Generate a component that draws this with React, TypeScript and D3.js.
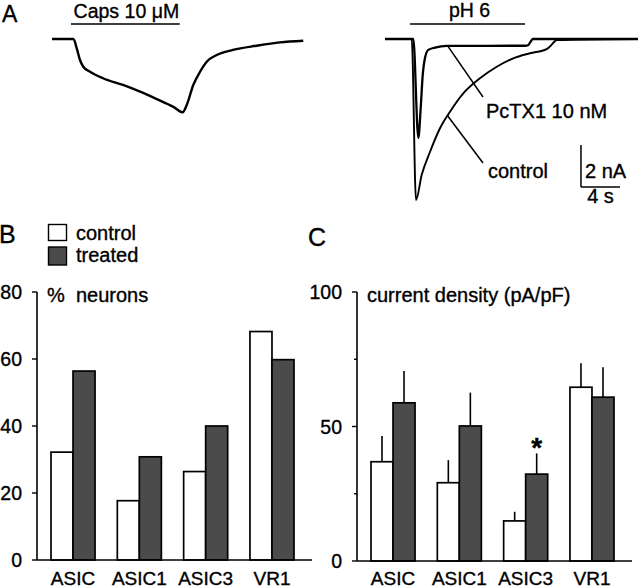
import React from "react";
import * as d3 from "d3";

// ---------- Panel A data (time in s, current in nA) ----------
const capsT = [0, 2.2, 2.53, 2.87, 3.21, 3.9, 5.23, 7.28, 9.03, 10.74, 12.41, 13.4, 13.82, 14.49, 15.18, 15.87, 16.89, 18.56, 20.99, 23.38, 25.77];
const capsI = [0, 0, -0.43, -1.0, -1.32, -1.56, -1.87, -2.19, -2.51, -2.86, -3.22, -3.49, -3.14, -2.19, -1.56, -1.08, -0.76, -0.52, -0.32, -0.16, -0.08];
const capsApplication = [1.95, 13.1];

const controlT = [0, 2.74, 3.18, 3.76, 4.62, 5.64, 6.67, 8.03, 9.74, 11.46, 13.16, 14.87, 16.58, 16.92, 17.64, 25.95];
const controlI = [0, 0, -7.67, -6.48, -5.37, -4.25, -3.46, -2.59, -1.87, -1.32, -0.92, -0.68, -0.48, -0.36, -0.05, 0];
const pctxT = [0, 2.9, 3.42, 3.66, 3.87, 4.1, 4.44, 5.13, 6.33, 14.56, 14.67, 15.18, 25.95];
const pctxI = [0, 0, -4.71, -3.29, -1.71, -0.9, -0.52, -0.41, -0.33, -0.32, -0.3, 0, 0];
const phApplication = [2.56, 14.36];

// ---------- Panel B data ----------
const categories = ["ASIC", "ASIC1", "ASIC3", "VR1"];
const groups = ["control", "treated"];
const pctControl = [32.2, 17.7, 26.4, 68.2];
const pctTreated = [56.4, 30.8, 40, 59.8];
const pctTicks = [0, 20, 40, 60, 80];

// ---------- Panel C data ----------
const densControl = [36.9, 29.1, 14.9, 64.6];
const densControlErr = [9.6, 8.4, 3.4, 8.9];
const densTreated = [58.8, 50.2, 32.3, 60.9];
const densTreatedErr = [11.8, 12.4, 7.7, 11.1];
const densTicks = [0, 25, 50, 75, 100];
const densLabelTicks = [0, 50, 100];
const significant = [false, false, true, false];

const FONT = "'Liberation Sans', Arial, Helvetica, sans-serif";
const DARK = "#4b4b4b";

function zip(t: number[], v: number[]) {
  return t.map((tt, i) => [tt, v[i]] as [number, number]);
}

function BarPanel(props: {
  x0: number;
  yZero: number;
  yTop: number;
  max: number;
  ticks: number[];
  labelTicks: number[];
  control: number[];
  treated: number[];
  controlErr?: number[];
  treatedErr?: number[];
  title: string;
}) {
  const { x0, yZero, yTop, max, ticks, labelTicks, control, treated, controlErr, treatedErr, title } = props;
  const y = d3.scaleLinear().domain([0, max]).range([yZero, yTop]);
  const xb = d3.scaleBand<string>().domain(categories).range([x0 + 14, x0 + 257]).paddingInner(0.336).paddingOuter(0);
  const xi = d3.scaleBand<string>().domain(groups).range([0, xb.bandwidth()]);
  const axisEnd = x0 + 275;
  return (
    <g>
      {categories.map((c, i) => {
        const vals = [control[i], treated[i]];
        const errs = [controlErr ? controlErr[i] : 0, treatedErr ? treatedErr[i] : 0];
        return (
          <g key={c}>
            {groups.map((g, j) => {
              const bx = (xb(c) as number) + (xi(g) as number);
              const bw = xi.bandwidth();
              return (
                <g key={g}>
                  {errs[j] > 0 && (
                    <line x1={bx + bw / 2} x2={bx + bw / 2} y1={y(vals[j])} y2={y(vals[j] + errs[j])} stroke="#000" strokeWidth={1.6} />
                  )}
                  <rect x={bx} y={y(vals[j])} width={bw} height={yZero - y(vals[j])} fill={j === 0 ? "#fff" : DARK} stroke="#000" strokeWidth={1.7} />
                </g>
              );
            })}
            <text x={(xb(c) as number) + xb.bandwidth() / 2} y={585} textAnchor="middle" fontSize={19} fontFamily={FONT}>
              {c}
            </text>
          </g>
        );
      })}
      {/* axes */}
      <line x1={x0} x2={x0} y1={y(max)} y2={yZero} stroke="#000" strokeWidth={1.6} />
      <line x1={x0} x2={axisEnd} y1={yZero} y2={yZero} stroke="#000" strokeWidth={1.6} />
      {ticks.map((t) => {
        const major = labelTicks.includes(t);
        return (
          <g key={t}>
            <line x1={x0 - (major ? 5 : 3)} x2={x0} y1={y(t)} y2={y(t)} stroke="#000" strokeWidth={1.4} />
            {major && (
              <text x={x0 - 15} y={y(t)} dy="0.36em" textAnchor="end" fontSize={19.5} fontFamily={FONT}>
                {t}
              </text>
            )}
          </g>
        );
      })}
      <text x={x0 + 10} y={302} fontSize={20} fontFamily={FONT} xmlSpace="preserve">
        {title}
      </text>
    </g>
  );
}

export default function App() {
  // Panel A scales
  const xLeft = d3.scaleLinear().domain([0, 26]).range([52, 52 + 26 * 9.75]);
  const xRight = d3.scaleLinear().domain([0, 26]).range([385, 385 + 26 * 9.75]);
  const yI = d3.scaleLinear().domain([-8, 0]).range([39 + 8 * 21, 39]);
  const lineL = d3.line<[number, number]>().x((d) => xLeft(d[0])).y((d) => yI(d[1])).curve(d3.curveMonotoneX);
  const lineR = d3.line<[number, number]>().x((d) => xRight(d[0])).y((d) => yI(d[1])).curve(d3.curveMonotoneX);

  // scale bar
  const sbT = 20.1;
  const sbI = -5.05;

  const xc = d3.scaleBand<string>().domain(categories).range([357 + 14, 357 + 257]).paddingInner(0.336);
  const xci = d3.scaleBand<string>().domain(groups).range([0, xc.bandwidth()]);
  const yC = d3.scaleLinear().domain([0, 100]).range([561, 292]);

  return (
    <svg width={640} height={588} style={{ position: "absolute", left: 0, top: 0, background: "#fff" }} fontFamily={FONT}>
      <style>{`text{stroke:#000;stroke-width:0.35px;}`}</style>
      <rect width={640} height={588} fill="#fff" />
      {/* Panel letters */}
      <text x={2} y={22} fontSize={23} fontFamily={FONT}>A</text>
      <text x={-1} y={243} fontSize={25} fontFamily={FONT}>B</text>
      <text x={308} y={246} fontSize={25} fontFamily={FONT}>C</text>

      {/* Panel A left */}
      <line x1={xLeft(capsApplication[0])} x2={xLeft(capsApplication[1])} y1={24} y2={24} stroke="#000" strokeWidth={1.6} />
      <text x={(xLeft(capsApplication[0]) + xLeft(capsApplication[1])) / 2 + 1} y={17.5} textAnchor="middle" fontSize={19.5}>
        Caps 10 μM
      </text>
      <path d={lineL(zip(capsT, capsI)) as string} fill="none" stroke="#000" strokeWidth={2.4} strokeLinejoin="round" />

      {/* Panel A right */}
      <line x1={xRight(phApplication[0])} x2={xRight(phApplication[1])} y1={24} y2={24} stroke="#000" strokeWidth={1.6} />
      <text x={(xRight(phApplication[0]) + xRight(phApplication[1])) / 2 + 2} y={17} textAnchor="middle" fontSize={19.5}>
        pH 6
      </text>
      <path d={lineR(zip(controlT, controlI)) as string} fill="none" stroke="#000" strokeWidth={1.9} strokeLinejoin="round" />
      <path d={lineR(zip(pctxT, pctxI)) as string} fill="none" stroke="#000" strokeWidth={2.3} strokeLinejoin="round" />
      {/* annotation pointers */}
      <line x1={xRight(6.46)} y1={yI(-0.35)} x2={483} y2={97} stroke="#000" strokeWidth={1.5} />
      <text x={486} y={118} fontSize={20}>PcTX1 10 nM</text>
      <line x1={xRight(6.36)} y1={yI(-3.62)} x2={483} y2={163} stroke="#000" strokeWidth={1.5} />
      <text x={488} y={178} fontSize={20}>control</text>
      {/* scale bar */}
      <line x1={xRight(sbT)} x2={xRight(sbT)} y1={yI(sbI)} y2={yI(sbI - 2)} stroke="#000" strokeWidth={1.5} />
      <line x1={xRight(sbT)} x2={xRight(sbT + 4)} y1={yI(sbI - 2)} y2={yI(sbI - 2)} stroke="#000" strokeWidth={1.5} />
      <text x={585} y={178} fontSize={20}>2 nA</text>
      <text x={(xRight(sbT) + xRight(sbT + 4)) / 2} y={203} textAnchor="middle" fontSize={20}>4 s</text>

      {/* Legend */}
      <rect x={48.5} y={224.5} width={18} height={16} fill="#fff" stroke="#000" strokeWidth={1.4} />
      <rect x={48.5} y={247} width={18} height={18} fill={DARK} stroke="#000" strokeWidth={1.4} />
      <text x={76} y={240} fontSize={20}>control</text>
      <text x={76} y={262} fontSize={20}>treated</text>

      {/* Panel B */}
      <BarPanel
        x0={37}
        yZero={560}
        yTop={292}
        max={80}
        ticks={pctTicks}
        labelTicks={pctTicks}
        control={pctControl}
        treated={pctTreated}
        title={"%  neurons"}
      />

      {/* Panel C */}
      <BarPanel
        x0={357}
        yZero={561}
        yTop={292}
        max={100}
        ticks={densTicks}
        labelTicks={densLabelTicks}
        control={densControl}
        treated={densTreated}
        controlErr={densControlErr}
        treatedErr={densTreatedErr}
        title={"current density (pA/pF)"}
      />
      {categories.map((c, i) =>
        significant[i] ? (
          <text
            key={c}
            x={(xc(c) as number) + (xci("treated") as number) + xci.bandwidth() / 2}
            y={yC(densTreated[i] + densTreatedErr[i]) + 4}
            textAnchor="middle"
            fontSize={28}
            fontWeight="bold"
          >
            *
          </text>
        ) : null
      )}
    </svg>
  );
}
